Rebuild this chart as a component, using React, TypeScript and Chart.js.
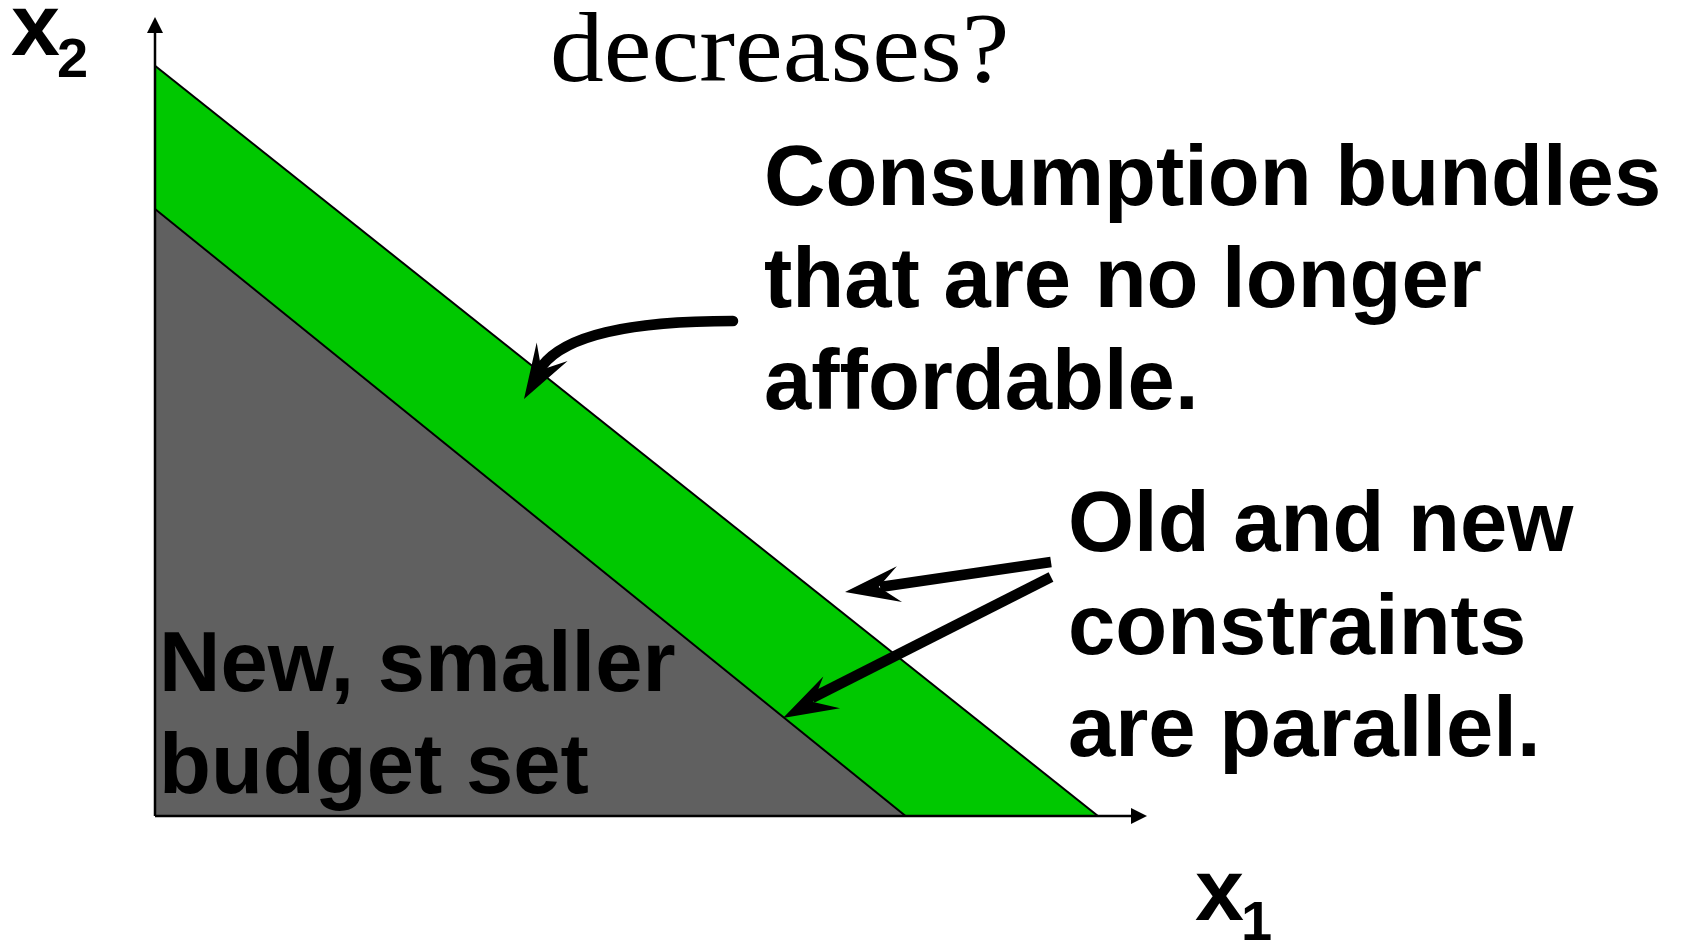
import React, { useEffect, useRef } from "react";
import { Chart, registerables } from "chart.js";

Chart.register(...registerables);

// Axis ranges (data units)
const X_MAX = 10.52;
const Y_MAX = 10.65;

// Old (original) budget line: x1 intercept, x2 intercept
const oldBudgetX = [0, 10];
const oldBudgetY = [10, 0];

// New, smaller budget line
const newBudgetX = [0, 7.96];
const newBudgetY = [8.09, 0];

// Text labels
const titleText = "decreases?";
const topNoteLines = ["Consumption bundles", "that are no longer", "affordable."];
const rightNoteLines = ["Old and new", "constraints", "are parallel."];
const budgetSetLines = ["New, smaller", "budget set"];
const yAxisLabel = ["x", "2"];
const xAxisLabel = ["x", "1"];

const GREEN = "#00c800";
const GRAY = "#606060";
const W = 1682;
const H = 942;

function stealthHead(
  ctx: CanvasRenderingContext2D,
  tx: number,
  ty: number,
  fromX: number,
  fromY: number,
  len: number,
  half: number,
  notch: number
) {
  const dx = tx - fromX;
  const dy = ty - fromY;
  const d = Math.hypot(dx, dy);
  const ux = dx / d;
  const uy = dy / d;
  const px = -uy;
  const py = ux;
  const bx = tx - ux * len;
  const by = ty - uy * len;
  const nx = tx - ux * len * notch;
  const ny = ty - uy * len * notch;
  ctx.beginPath();
  ctx.moveTo(tx, ty);
  ctx.lineTo(bx + px * half, by + py * half);
  ctx.lineTo(nx, ny);
  ctx.lineTo(bx - px * half, by - py * half);
  ctx.closePath();
  ctx.fill();
}

const overlayPlugin = {
  id: "overlay",
  afterDatasetsDraw(chart: any) {
    const ctx: CanvasRenderingContext2D = chart.ctx;
    const xs = chart.scales.x;
    const ys = chart.scales.y;
    const area = chart.chartArea;
    const ox = xs.getPixelForValue(0);
    const oy = ys.getPixelForValue(0);
    ctx.save();
    ctx.fillStyle = "#000";
    ctx.strokeStyle = "#000";

    // axes
    ctx.lineWidth = 2.5;
    ctx.beginPath();
    ctx.moveTo(ox, oy);
    ctx.lineTo(ox, area.top + 14);
    ctx.moveTo(ox, oy);
    ctx.lineTo(area.right - 14, oy);
    ctx.stroke();
    ctx.beginPath();
    ctx.moveTo(ox, area.top);
    ctx.lineTo(ox - 8, area.top + 16);
    ctx.lineTo(ox + 8, area.top + 16);
    ctx.closePath();
    ctx.fill();
    ctx.beginPath();
    ctx.moveTo(area.right, oy);
    ctx.lineTo(area.right - 16, oy - 8);
    ctx.lineTo(area.right - 16, oy + 8);
    ctx.closePath();
    ctx.fill();

    // curved arrow
    ctx.lineWidth = 10.5;
    ctx.lineCap = "round";
    ctx.beginPath();
    ctx.moveTo(733, 321);
    ctx.bezierCurveTo(625, 321, 565, 336, 542, 366);
    ctx.stroke();
    stealthHead(ctx, 524, 399, 552, 352, 55, 18, 0.62);

    // straight arrows
    ctx.lineCap = "butt";
    ctx.lineWidth = 10.5;
    ctx.beginPath();
    ctx.moveTo(1051, 562);
    ctx.lineTo(880, 587);
    ctx.stroke();
    stealthHead(ctx, 845, 592, 1051, 562, 55, 18, 0.62);

    ctx.beginPath();
    ctx.moveTo(1051, 577);
    ctx.lineTo(812, 698);
    ctx.stroke();
    stealthHead(ctx, 783, 718, 1051, 577, 55, 18, 0.62);

    // texts
    ctx.textAlign = "left";
    ctx.textBaseline = "alphabetic";
    ctx.save();
    ctx.translate(550, 81);
    ctx.scale(1.075, 1);
    ctx.font = '100px "Liberation Serif", "Times New Roman", serif';
    ctx.fillText(titleText, 0, 0);
    ctx.restore();

    ctx.font = 'bold 85px "Liberation Sans", Arial, sans-serif';
    topNoteLines.forEach((t, i) => ctx.fillText(t, 764, 205 + i * 102));
    rightNoteLines.forEach((t, i) => ctx.fillText(t, 1068, 551 + i * 102.5));
    budgetSetLines.forEach((t, i) => ctx.fillText(t, 159, 691 + i * 102));

    ctx.font = 'bold 88px "Liberation Sans", Arial, sans-serif';
    ctx.fillText(yAxisLabel[0], 11, 55);
    ctx.fillText(xAxisLabel[0], 1195, 920);
    ctx.font = 'bold 56px "Liberation Sans", Arial, sans-serif';
    ctx.fillText(yAxisLabel[1], 57, 77);
    ctx.fillText(xAxisLabel[1], 1241, 940);

    ctx.restore();
  },
};

export default function App() {
  const ref = useRef<HTMLCanvasElement | null>(null);

  useEffect(() => {
    if (!ref.current) return;
    const toPts = (xsArr: number[], ysArr: number[]) =>
      xsArr.map((x, i) => ({ x, y: ysArr[i] }));
    const chart = new Chart(ref.current, {
      type: "scatter",
      data: {
        datasets: [
          {
            label: "New budget",
            data: toPts(newBudgetX, newBudgetY),
            showLine: true,
            fill: "origin",
            backgroundColor: GRAY,
            borderColor: "#000",
            borderWidth: 2,
            pointRadius: 0,
            order: 0,
          },
          {
            label: "Old budget",
            data: toPts(oldBudgetX, oldBudgetY),
            showLine: true,
            fill: "origin",
            backgroundColor: GREEN,
            borderColor: "#000",
            borderWidth: 2,
            pointRadius: 0,
            order: 1,
          },
        ],
      },
      options: {
        responsive: false,
        animation: false,
        events: [],
        layout: { padding: { left: 155, top: 17, right: W - 1147, bottom: H - 816 } },
        scales: {
          x: { type: "linear", min: 0, max: X_MAX, display: false },
          y: { type: "linear", min: 0, max: Y_MAX, display: false },
        },
        plugins: { legend: { display: false }, tooltip: { enabled: false } },
      },
      plugins: [overlayPlugin],
    });
    return () => chart.destroy();
  }, []);

  return (
    <div style={{ position: "absolute", left: 0, top: 0, width: W, height: H, background: "#fff" }}>
      <canvas ref={ref} width={W} height={H} style={{ display: "block" }} />
    </div>
  );
}
